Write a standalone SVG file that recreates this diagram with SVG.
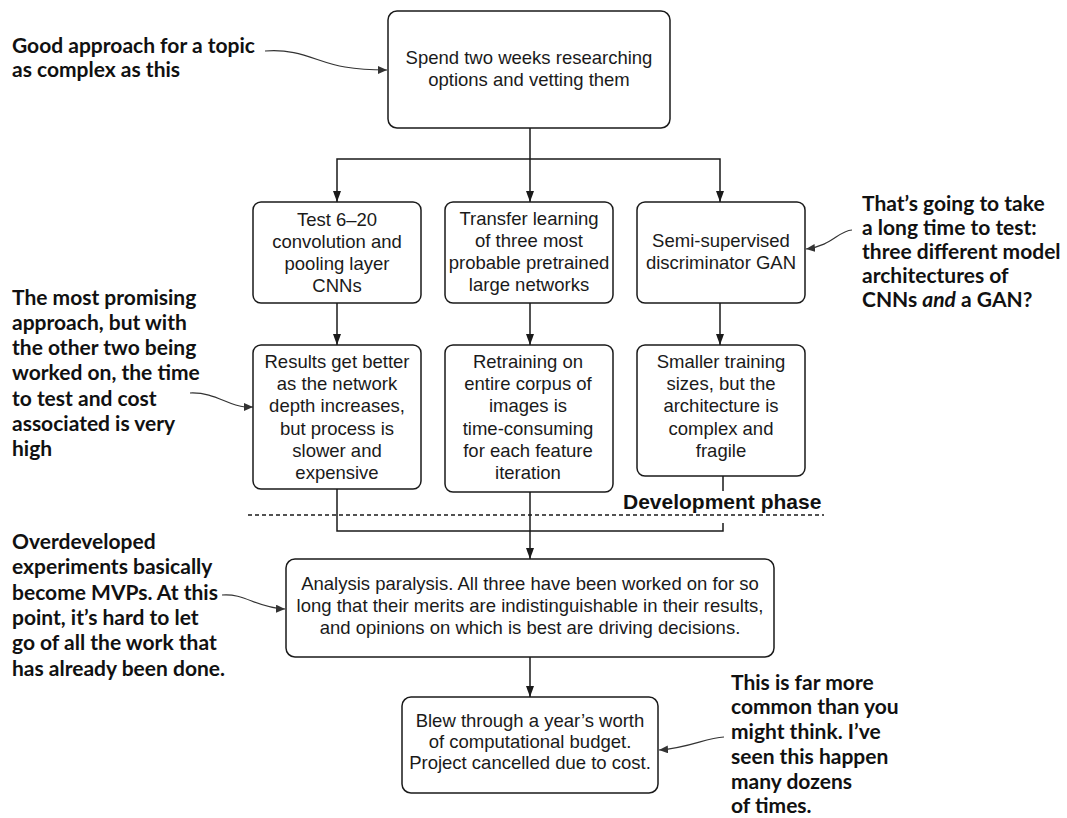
<svg xmlns="http://www.w3.org/2000/svg" width="1067" height="818" viewBox="0 0 1067 818">
  <style>
    .box { fill: #ffffff; stroke: #1a1a1a; stroke-width: 1.5; }
    .t { font-family: "Liberation Sans", Arial, sans-serif; font-size: 18.5px; fill: #1a1a1a; text-anchor: middle; }
    .note { font-family: Lato, "Open Sans", sans-serif; font-weight: 700; font-size: 21px; fill: #111111; }
    .phase { font-family: "Liberation Sans", Arial, sans-serif; font-weight: 700; font-size: 21px; fill: #111111; }
    .wire { fill: none; stroke: #1a1a1a; stroke-width: 1.5; }
    .lead { fill: none; stroke: #333333; stroke-width: 1.2; }
    .dash { fill: none; stroke: #1a1a1a; stroke-width: 1.3; stroke-dasharray: 4 3; }
  </style>
  <defs>
    <marker id="head" markerUnits="userSpaceOnUse" markerWidth="12" markerHeight="9" refX="11" refY="4" orient="auto">
      <path d="M0,0 L11,4 L0,8 z" fill="#1a1a1a"/>
    </marker>
    <marker id="tip" markerUnits="userSpaceOnUse" markerWidth="10" markerHeight="9" refX="9" refY="4" orient="auto">
      <path d="M0,0 L9,4 L0,8 z" fill="#333333"/>
    </marker>
  </defs>

  <!-- flow connectors -->
  <g id="connectors">
    <path class="wire" d="M530,128 L530,202" marker-end="url(#head)"/>
    <path class="wire" d="M530,159 L337,159 L337,202" marker-end="url(#head)"/>
    <path class="wire" d="M530,159 L720,159 L720,202" marker-end="url(#head)"/>
    <path class="wire" d="M337,303 L337,345" marker-end="url(#head)"/>
    <path class="wire" d="M530,303 L530,345" marker-end="url(#head)"/>
    <path class="wire" d="M720,303 L720,345" marker-end="url(#head)"/>
    <path class="wire" d="M337,489 L337,531 L723,531 L723,476"/>
    <path class="wire" d="M530,492 L530,559" marker-end="url(#head)"/>
    <path class="wire" d="M530,657 L530,697" marker-end="url(#head)"/>
    <!-- annotation leaders -->
    <path class="lead" d="M265,51 C300,48 318,63 345,67 C362,70 372,70 387,70" marker-end="url(#tip)"/>
    <path class="lead" d="M190,393 C215,392 226,405 245,407 L253,407" marker-end="url(#tip)"/>
    <path class="lead" d="M222,595 C245,593 256,608 285,609" marker-end="url(#tip)"/>
    <path class="lead" d="M852,230 C838,231 832,246 806,249" marker-end="url(#tip)"/>
    <path class="lead" d="M724,737 C705,738 690,748 659,750" marker-end="url(#tip)"/>
  </g>

  <!-- phase boundary -->
  <g id="phase">
    <rect x="620" y="491" width="206" height="32" fill="#ffffff"/>
    <path class="dash" d="M248,515 L824,515"/>
    <text class="phase" x="623" y="509">Development phase</text>
  </g>

  <g id="research">
    <rect class="box" x="388" y="11" width="282" height="117" rx="9"/>
    <text class="t" x="529" y="64">Spend two weeks researching</text>
    <text class="t" x="529" y="86">options and vetting them</text>
  </g>

  <g id="cnn">
    <rect class="box" x="253" y="202" width="168" height="101" rx="8"/>
    <text class="t" x="337" y="226">Test 6–20</text>
    <text class="t" x="337" y="248">convolution and</text>
    <text class="t" x="337" y="270">pooling layer</text>
    <text class="t" x="337" y="292">CNNs</text>
  </g>

  <g id="transfer">
    <rect class="box" x="445" y="202" width="168" height="101" rx="8"/>
    <text class="t" x="529" y="225">Transfer learning</text>
    <text class="t" x="529" y="247">of three most</text>
    <text class="t" x="529" y="269">probable pretrained</text>
    <text class="t" x="529" y="291">large networks</text>
  </g>

  <g id="gan">
    <rect class="box" x="637" y="202" width="168" height="101" rx="8"/>
    <text class="t" x="721" y="247">Semi-supervised</text>
    <text class="t" x="721" y="269">discriminator GAN</text>
  </g>

  <g id="cnn-result">
    <rect class="box" x="253" y="345" width="168" height="144" rx="8"/>
    <text class="t" x="337" y="368">Results get better</text>
    <text class="t" x="337" y="390">as the network</text>
    <text class="t" x="337" y="412">depth increases,</text>
    <text class="t" x="337" y="435">but process is</text>
    <text class="t" x="337" y="457">slower and</text>
    <text class="t" x="337" y="479">expensive</text>
  </g>

  <g id="transfer-result">
    <rect class="box" x="445" y="345" width="168" height="147" rx="8"/>
    <text class="t" x="528" y="368">Retraining on</text>
    <text class="t" x="528" y="390">entire corpus of</text>
    <text class="t" x="528" y="412">images is</text>
    <text class="t" x="528" y="435">time-consuming</text>
    <text class="t" x="528" y="457">for each feature</text>
    <text class="t" x="528" y="479">iteration</text>
  </g>

  <g id="gan-result">
    <rect class="box" x="637" y="345" width="168" height="131" rx="8"/>
    <text class="t" x="721" y="368">Smaller training</text>
    <text class="t" x="721" y="390">sizes, but the</text>
    <text class="t" x="721" y="412">architecture is</text>
    <text class="t" x="721" y="435">complex and</text>
    <text class="t" x="721" y="457">fragile</text>
  </g>

  <g id="paralysis">
    <rect class="box" x="286" y="559" width="488" height="98" rx="9"/>
    <text class="t" x="530" y="590">Analysis paralysis. All three have been worked on for so</text>
    <text class="t" x="530" y="612">long that their merits are indistinguishable in their results,</text>
    <text class="t" x="530" y="634">and opinions on which is best are driving decisions.</text>
  </g>

  <g id="cancelled">
    <rect class="box" x="402" y="697" width="256" height="96" rx="9"/>
    <text class="t" x="530" y="727">Blew through a year’s worth</text>
    <text class="t" x="530" y="748">of computational budget.</text>
    <text class="t" x="530" y="769">Project cancelled due to cost.</text>
  </g>

  <!-- side notes -->
  <g id="note-approach">
    <text class="note" x="12" y="53">Good approach for a topic</text>
    <text class="note" x="12" y="77">as complex as this</text>
  </g>

  <g id="note-promising">
    <text class="note" x="12" y="305">The most promising</text>
    <text class="note" x="12" y="330">approach, but with</text>
    <text class="note" x="12" y="355">the other two being</text>
    <text class="note" x="12" y="380">worked on, the time</text>
    <text class="note" x="12" y="406">to test and cost</text>
    <text class="note" x="12" y="431">associated is very</text>
    <text class="note" x="12" y="456">high</text>
  </g>

  <g id="note-time">
    <text class="note" x="862" y="211">That’s going to take</text>
    <text class="note" x="862" y="235">a long time to test:</text>
    <text class="note" x="862" y="259">three different model</text>
    <text class="note" x="862" y="283">architectures of</text>
    <text class="note" x="862" y="307">CNNs <tspan font-style="italic">and</tspan> a GAN?</text>
  </g>

  <g id="note-overdeveloped">
    <text class="note" x="12" y="549">Overdeveloped</text>
    <text class="note" x="12" y="574">experiments basically</text>
    <text class="note" x="12" y="600">become MVPs. At this</text>
    <text class="note" x="12" y="625">point, it’s hard to let</text>
    <text class="note" x="12" y="650">go of all the work that</text>
    <text class="note" x="12" y="676">has already been done.</text>
  </g>

  <g id="note-common">
    <text class="note" x="731" y="690">This is far more</text>
    <text class="note" x="731" y="714">common than you</text>
    <text class="note" x="731" y="739">might think. I’ve</text>
    <text class="note" x="731" y="764">seen this happen</text>
    <text class="note" x="731" y="789">many dozens</text>
    <text class="note" x="731" y="813">of times.</text>
  </g>
</svg>
